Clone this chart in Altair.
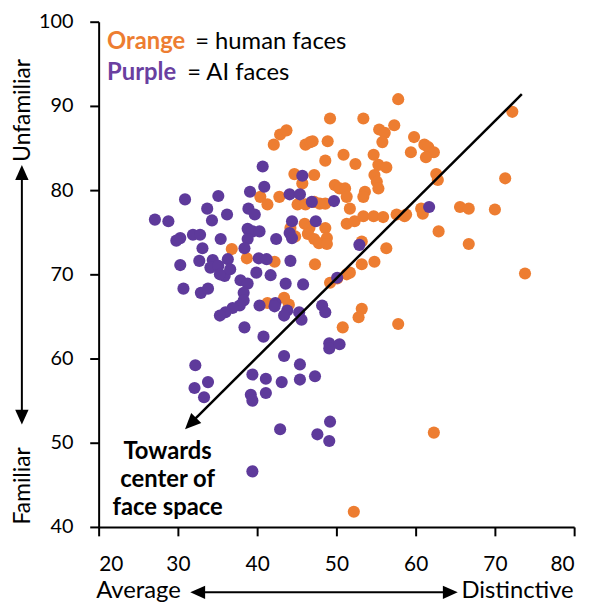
import altair as alt
import pandas as pd

# ---------------- data ----------------
orange_x = [72.2, 57.8, 53.4, 49.2, 42.9, 43.7, 42.1, 46.1, 46.7, 47.0, 48.9, 50.9, 52.4, 48.6,
            54.7, 55.4, 56.1, 57.3, 55.8, 55.3, 56.3, 59.8, 59.4, 61.1, 61.6, 62.3, 61.3, 62.6,
            62.8, 71.3, 54.8, 55.1, 55.3, 53.6, 53.4, 49.8, 50.4, 51.1, 51.3, 51.7, 44.7, 47.2,
            45.7, 40.4, 41.3, 42.8, 45.1, 46.1, 47.2, 47.9, 48.6, 51.3, 52.3, 53.4, 54.7, 55.9,
            57.6, 58.6, 60.7, 60.9, 65.6, 66.7, 70.0, 62.9, 66.7, 46.0, 46.6, 46.4, 47.2, 48.6,
            48.8, 47.8, 48.8, 53.2, 56.3, 53.2, 54.8, 47.3, 42.2, 51.3, 51.7, 49.2, 50.1, 53.2,
            52.8, 50.8, 57.8, 41.3, 44.0, 73.8, 62.3, 52.2, 36.8, 38.7, 44.2, 44.8, 58.8, 43.4]
orange_y = [89.3, 90.8, 88.5, 88.5, 86.6, 87.1, 85.4, 85.4, 85.7, 85.8, 85.8, 84.2, 83.1, 83.5,
            84.2, 87.2, 86.8, 87.7, 85.7, 83.0, 82.7, 86.3, 84.5, 85.4, 85.1, 84.5, 83.9, 81.9,
            81.2, 81.4, 81.8, 81.0, 80.2, 79.8, 79.2, 80.6, 80.2, 80.2, 79.2, 77.8, 81.9, 81.8,
            80.8, 79.2, 78.3, 79.2, 78.3, 78.3, 78.6, 78.4, 78.4, 76.0, 76.3, 76.9, 76.9, 76.8,
            77.1, 76.9, 77.8, 77.2, 78.0, 77.8, 77.7, 75.1, 73.6, 76.0, 75.5, 74.8, 74.2, 75.5,
            74.3, 73.7, 73.6, 73.9, 73.1, 71.2, 71.5, 71.2, 71.5, 70.0, 70.2, 69.0, 69.5, 65.9,
            64.9, 63.7, 64.1, 66.6, 66.4, 70.1, 51.2, 41.8, 73.0, 71.9, 75.5, 74.5, 77.1, 67.2]

purple_x = [30.9, 35.1, 39.1, 40.7, 40.9, 33.7, 36.2, 34.3, 38.9, 39.7, 27.1, 28.8, 30.3, 29.8,
            31.9, 32.8, 35.4, 33.1, 38.8, 39.4, 40.3, 38.8, 38.4, 42.4, 44.1, 45.4, 46.9, 49.7,
            45.7, 61.7, 44.4, 44.1, 44.4, 47.4, 52.9, 30.3, 32.7, 34.4, 34.1, 35.1, 36.3, 35.9,
            35.3, 36.6, 40.2, 41.2, 44.2, 39.9, 41.7, 43.6, 45.8, 50.1, 37.9, 38.8, 38.3, 38.3,
            37.8, 36.9, 36.0, 35.3, 30.7, 32.9, 33.8, 40.3, 42.3, 42.2, 43.8, 43.4, 45.3, 45.6,
            48.2, 48.6, 38.4, 40.8, 49.1, 49.1, 50.4, 43.4, 45.4, 47.3, 45.4, 43.1, 41.1, 39.4,
            41.1, 39.2, 39.4, 32.2, 32.1, 33.8, 33.3, 42.9, 49.2, 47.6, 49.1, 39.4]
purple_y = [78.9, 79.3, 79.8, 82.8, 80.4, 77.8, 77.1, 76.4, 77.8, 77.1, 76.5, 76.3, 74.3, 74.0,
            74.7, 74.7, 74.2, 73.1, 75.4, 75.1, 75.1, 74.2, 73.1, 74.2, 79.5, 79.5, 78.6, 78.7,
            81.7, 78.0, 76.3, 74.9, 74.3, 76.3, 73.5, 71.1, 71.6, 71.7, 70.8, 71.0, 71.8, 69.8,
            70.0, 70.6, 71.9, 71.8, 71.6, 70.2, 69.9, 68.9, 68.8, 69.6, 69.3, 68.9, 67.8, 66.9,
            66.3, 66.0, 65.5, 65.1, 68.3, 67.8, 68.3, 66.3, 66.6, 66.2, 65.7, 65.1, 65.5, 64.6,
            66.3, 65.5, 63.7, 62.6, 61.8, 61.2, 61.7, 60.3, 59.3, 57.9, 57.5, 57.2, 57.6, 58.1,
            55.9, 55.7, 55.0, 59.2, 56.5, 57.2, 55.4, 51.6, 52.5, 51.0, 50.2, 46.6]

x_ticks = [20, 30, 40, 50, 60, 70, 80]
y_ticks = [40, 50, 60, 70, 80, 90, 100]

# arrow "towards center of face space" (data coordinates)
arrow_x = [73.4, 31.6]
arrow_y = [91.4, 52.3]
arrow_tip = [30.9, 51.6]
note_lines = ["Towards", "center of", "face space"]
note_x = [28.7, 28.7, 28.7]
note_y = [48.1, 44.7, 41.4]

ORANGE = "#ED7D31"
PURPLE = "#5E3A9B"
FONT = "Lato"

orange_df = pd.DataFrame({"x": orange_x, "y": orange_y})
purple_df = pd.DataFrame({"x": purple_x, "y": purple_y})

xs = alt.Scale(domain=[20, 80], nice=False, zero=False)
ys = alt.Scale(domain=[40, 100], nice=False, zero=False)

x_axis = alt.Axis(values=x_ticks, title=None, grid=False, tickSize=9, tickWidth=2,
                  domainWidth=2, domainColor="black", tickColor="black",
                  labelFont=FONT, labelFontSize=21, labelColor="black", labelPadding=18)
y_axis = alt.Axis(values=y_ticks, title=None, grid=False, tickSize=9, tickWidth=2,
                  domainWidth=2, domainColor="black", tickColor="black",
                  labelFont=FONT, labelFontSize=20, labelColor="black", labelPadding=17)

orange_pts = alt.Chart(orange_df).mark_circle(size=150, opacity=1, color=ORANGE).encode(
    x=alt.X("x:Q", scale=xs, axis=x_axis),
    y=alt.Y("y:Q", scale=ys, axis=y_axis),
)
purple_pts = alt.Chart(purple_df).mark_circle(size=150, opacity=1, color=PURPLE).encode(
    x=alt.X("x:Q", scale=xs),
    y=alt.Y("y:Q", scale=ys),
)

arrow_df = pd.DataFrame({"x": [arrow_x[0]], "y": [arrow_y[0]], "x2": [arrow_x[1]], "y2": [arrow_y[1]]})
arrow_line = alt.Chart(arrow_df).mark_rule(color="black", strokeWidth=2.5).encode(
    x=alt.X("x:Q", scale=xs), y=alt.Y("y:Q", scale=ys), x2="x2:Q", y2="y2:Q")

HEAD = "M0,0 L-0.9,2 L0.9,2 Z"
tip_df = pd.DataFrame({"x": [arrow_tip[0]], "y": [arrow_tip[1]]})
arrow_head = alt.Chart(tip_df).mark_point(shape=HEAD, filled=True, size=256, angle=225,
                                          color="black", opacity=1).encode(
    x=alt.X("x:Q", scale=xs), y=alt.Y("y:Q", scale=ys))

note_df = pd.DataFrame({"t": note_lines, "x": note_x, "y": note_y})
note = alt.Chart(note_df).mark_text(font=FONT, fontSize=24, fontWeight="bold", color="black",
                                    align="center", baseline="alphabetic").encode(
    x=alt.X("x:Q", scale=xs), y=alt.Y("y:Q", scale=ys), text="t:N")

one = alt.Data(values=[{"a": 1}])


def txt(s, x, y, **kw):
    base = dict(font=FONT, fontSize=24, color="black", baseline="alphabetic", align="left")
    base.update(kw)
    return alt.Chart(one).mark_text(text=s, **base).encode(x=alt.value(x), y=alt.value(y))


def head(x, y, angle):
    return alt.Chart(one).mark_point(shape=HEAD, filled=True, size=225, angle=angle,
                                     color="black", opacity=1).encode(
        x=alt.value(x), y=alt.value(y))


def rule(x, y, x2=None, y2=None):
    enc = dict(x=alt.value(x), y=alt.value(y))
    if x2 is not None:
        enc["x2"] = alt.value(x2)
    if y2 is not None:
        enc["y2"] = alt.value(y2)
    return alt.Chart(one).mark_rule(color="black", strokeWidth=2).encode(**enc)


legend = [
    txt("Orange", 8.5, 27.5, fontWeight="bold", color=ORANGE),
    txt("= human faces", 97.5, 27.5),
    txt("Purple", 8.5, 58.5, fontWeight="bold", color="#6A3FA0"),
    txt("= AI faces", 89.5, 58.5),
]

outer = [
    txt("Average", -2.5, 582, fontSize=24),
    txt("Distinctive", 479.5, 582, align="right", fontSize=24),
    rule(100, 576, x2=356),
    head(92.5, 576, 270),
    head(362.5, 576, 90),
    txt("Unfamiliar", -76.5, 89.5, angle=270, align="center", baseline="middle", fontSize=23),
    txt("Familiar", -76.5, 468.5, angle=270, align="center", baseline="middle", fontSize=23),
    rule(-77.5, 152, y2=399),
    head(-77.5, 144.7, 0),
    head(-77.5, 406.7, 180),
]

chart = alt.layer(orange_pts, purple_pts, arrow_line, arrow_head, note, *legend, *outer).properties(
    width=480, height=510,
    autosize=alt.AutoSizeParams(type="none"),
    padding={"left": 91.5, "top": 11, "right": 15, "bottom": 80},
).configure_view(stroke=None)

chart.save("out.html", embed_options={"renderer": "svg", "actions": False})
